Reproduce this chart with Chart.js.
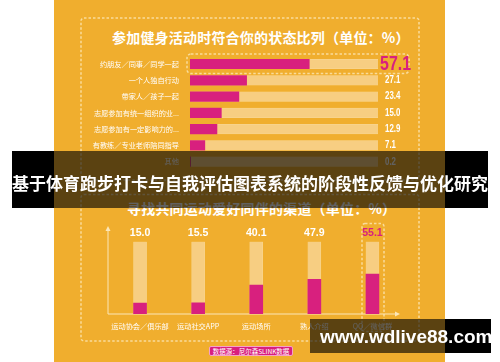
<!DOCTYPE html>
<html><head><meta charset="utf-8">
<script src="https://cdn.jsdelivr.net/npm/chart.js@4.4.0/dist/chart.umd.min.js"></script>
<style>
html,body{margin:0;padding:0;}
body{width:500px;height:362px;background:#fff;position:relative;overflow:hidden;font-family:'Noto Sans CJK SC','Noto Sans',sans-serif;}
.abs{position:absolute;}
.t{color:#fff;font-weight:bold;white-space:nowrap;}
</style></head>
<body>
<script>
// ---------- data ----------
const hCategories = ['约朋友／同事／同学一起','一个人独自行动','带家人／孩子一起','志愿参加有统一组织的业...','志愿参加有一定影响力的...','有教练／专业老师陪同指导','其他'];
const hValues = [57.1, 27.1, 23.4, 15.0, 12.9, 7.1, 0.2];
const hTrack  = [90, 90, 90, 90, 90, 90, 90];
const vCategories = ['运动协会／俱乐部','运动社交APP','运动场所','熟人介绍','QQ／微信群'];
const vValues = [15.0, 15.5, 40.1, 47.9, 55.1];
const vTrack  = [100, 100, 100, 100, 100];
const titleTop = '参加健身活动时符合你的状态比列（单位：%）';
const titleBottom = '寻找共同运动爱好同伴的渠道（单位：%）';
const bannerText = '基于体育跑步打卡与自我评估图表系统的阶段性反馈与优化研究';
const sourceText = '数据源：尼尔森SLINK数据';
const watermark = 'www.wdlive88.com';
</script>

<div class="abs" style="left:54px;top:0;width:391px;height:362px;background:#F0AE2E"></div>
<svg class="abs" style="left:0;top:0" width="500" height="362">
  <g fill="none" stroke="#F9DC9C" stroke-width="1.5" stroke-dasharray="2.5 2">
    <rect x="81" y="18" width="338" height="162" rx="3"/>
    <rect x="81" y="194.5" width="338" height="146.5" rx="3"/>
    <rect x="187" y="54" width="222" height="19.5" rx="4"/>
    <rect x="362" y="223.5" width="22" height="108" rx="3"/>
  </g>
</svg>
<div class="abs t" id="tt" style="left:112px;top:27px;font-size:14px;line-height:20px;letter-spacing:0.2px"></div>
<div class="abs" style="left:80px;top:50px;width:340px;height:125px"><canvas id="c1"></canvas></div>
<div class="abs t" id="tb" style="left:127px;top:198px;font-size:14px;line-height:20px;letter-spacing:0.2px"></div>
<div class="abs" style="left:80px;top:215px;width:340px;height:125px"><canvas id="c2"></canvas></div>
<div class="abs" id="src" style="left:209px;top:345.5px;width:82px;height:8px;background:#D8207E;border:0.5px solid #F6A0C8;border-radius:2px;color:#fff;font-size:6.5px;line-height:8px;text-align:center;white-space:nowrap"></div>

<div class="abs" style="left:12px;top:151px;width:42px;height:57px;background:#000"></div>
<div class="abs" style="left:54px;top:151px;width:391px;height:57px;background:rgba(0,0,0,0.62)"></div>
<div class="abs" style="left:445px;top:151px;width:43px;height:57px;background:#000"></div>
<div class="abs t" id="bt" style="left:0;width:500px;text-align:center;top:173px;font-size:17px;line-height:20px"></div>

<div class="abs" style="left:310px;top:319px;width:135px;height:34px;background:rgba(0,0,0,0.62)"></div>
<div class="abs" style="left:445px;top:319px;width:46px;height:34px;background:#000"></div>
<div class="abs t" id="wm" style="left:320px;top:327px;font-family:'Liberation Sans',Arial,sans-serif;font-size:19px;line-height:19px"></div>

<script>
document.getElementById('tt').textContent = titleTop;
document.getElementById('tb').textContent = titleBottom;
document.getElementById('bt').textContent = bannerText;
document.getElementById('src').textContent = sourceText;
document.getElementById('wm').textContent = watermark;

const MAG = '#D8207E', PEACH = '#F7CE82';
Chart.defaults.font.family = "'Noto Sans CJK SC','Noto Sans',sans-serif";
Chart.defaults.animation = false;

function narrowText(ctx, txt, x, y, size, color, sx, align) {
  ctx.save();
  ctx.font = 'bold ' + size + "px 'Liberation Sans Narrow','Liberation Sans',sans-serif";
  ctx.fillStyle = color;
  ctx.textBaseline = 'middle';
  ctx.textAlign = align;
  ctx.translate(x, y);
  ctx.scale(sx, 1);
  ctx.fillText(txt, 0, 0);
  ctx.restore();
}

new Chart(document.getElementById('c1'), {
  type: 'bar',
  data: {
    labels: hCategories,
    datasets: [
      { data: hValues, backgroundColor: MAG, grouped: false, order: 0, barThickness: 9.5 },
      { data: hTrack, backgroundColor: PEACH, borderColor: '#F9D994', borderWidth: 0.5, grouped: false, order: 1, barThickness: 9.5 }
    ]
  },
  options: {
    indexAxis: 'y', responsive: true, maintainAspectRatio: false,
    layout: { padding: { top: 5.9, bottom: 5.2, right: 42, left: 0 } },
    plugins: { legend: { display: false }, tooltip: { enabled: false } },
    scales: {
      x: { display: false, min: 0, max: 90 },
      y: {
        grid: { display: false, tickLength: 11 }, border: { display: false },
        ticks: { color: '#fff', font: { size: 7.2 }, padding: 0 },
        afterFit: s => { s.width = 110; }
      }
    }
  },
  plugins: [{
    id: 'hvals',
    afterDatasetsDraw(chart) {
      const ctx = chart.ctx;
      chart.getDatasetMeta(0).data.forEach((bar, i) => {
        const txt = hValues[i].toFixed(1);
        if (i === 0) narrowText(ctx, txt, 300, bar.y + 0.5, 21, MAG, 0.76, 'left');
        else narrowText(ctx, txt, 305, bar.y, 10.5, '#fff', 0.75, 'left');
      });
    }
  }]
});

new Chart(document.getElementById('c2'), {
  type: 'bar',
  data: {
    labels: vCategories,
    datasets: [
      { data: vValues, backgroundColor: MAG, grouped: false, order: 0, barThickness: 13 },
      { data: vTrack, backgroundColor: PEACH, borderColor: '#F9D994', borderWidth: 0.5, grouped: false, order: 1, barThickness: 13 }
    ]
  },
  options: {
    responsive: true, maintainAspectRatio: false,
    layout: { padding: { top: 26.7, bottom: 0, right: 18.5, left: 31 } },
    plugins: { legend: { display: false }, tooltip: { enabled: false } },
    scales: {
      y: { display: false, min: 0, max: 100 },
      x: {
        grid: { display: false, tickLength: 7.5 }, border: { display: false },
        ticks: { color: '#fff', font: { size: 7.2 }, padding: 0, maxRotation: 0, autoSkip: false },
        afterFit: s => { s.height = 26; }
      }
    }
  },
  plugins: [{
    id: 'axes',
    beforeDatasetsDraw(chart) {
      const ctx = chart.ctx, b = chart.chartArea.bottom;
      ctx.save();
      ctx.strokeStyle = '#FBE6B8'; ctx.fillStyle = '#FBE6B8'; ctx.lineWidth = 1;
      ctx.beginPath(); ctx.moveTo(28, b); ctx.lineTo(28, 14); ctx.moveTo(28, b); ctx.lineTo(316, b); ctx.stroke();
      ctx.beginPath(); ctx.moveTo(28, 11); ctx.lineTo(25.5, 16); ctx.lineTo(30.5, 16); ctx.closePath(); ctx.fill();
      ctx.beginPath(); ctx.moveTo(320, b); ctx.lineTo(315, b - 2.5); ctx.lineTo(315, b + 2.5); ctx.closePath(); ctx.fill();
      ctx.restore();
    },
    afterDatasetsDraw(chart) {
      const ctx = chart.ctx;
      chart.getDatasetMeta(0).data.forEach((bar, i) => {
        const last = i === vValues.length - 1;
        narrowText(ctx, vValues[i].toFixed(1), bar.x, 18, 11.5, last ? MAG : '#fff', 0.92, 'center');
      });
    }
  }]
});
</script>
</body></html>
